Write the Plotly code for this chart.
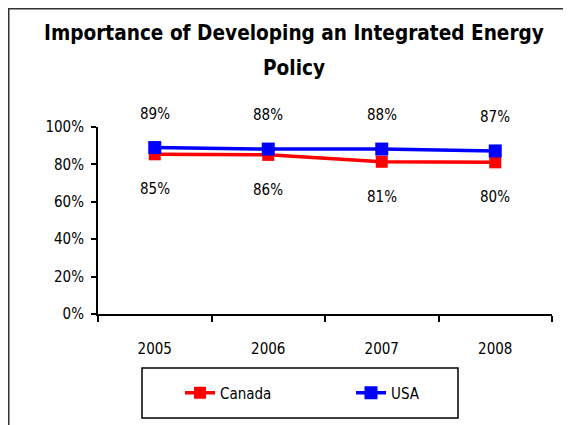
import plotly.graph_objects as go

years = ["2005", "2006", "2007", "2008"]
canada = [85.4, 85.1, 81.4, 81.1]          # plotted positions
canada_labels = ["85%", "86%", "81%", "80%"]
usa = [89.0, 88.2, 88.2, 87.2]              # plotted positions
usa_labels = ["89%", "88%", "88%", "87%"]
y_ticks = [0, 20, 40, 60, 80, 100]
y_tick_labels = [f"{v}%" for v in y_ticks]
title_lines = ["Importance of Developing an Integrated Energy", "Policy"]

# the page body adds an 8px offset; work in screen pixels and convert
OFF = 8
SW, SH = 571, 425
W, H = SW - OFF, SH - OFF
PLOT_L, PLOT_R, PLOT_T, PLOT_B = 98, 552, 127, 314   # screen px
ML, MR, MT, MB = PLOT_L - OFF, SW - PLOT_R, PLOT_T - OFF, SH - PLOT_B
PW, PH = PLOT_R - PLOT_L, PLOT_B - PLOT_T


def px_x(x):
    return (x - PLOT_L) / PW


def px_y(y):
    return (PLOT_B - y) / PH


FONT = "DejaVu Sans Condensed, Liberation Sans Narrow, sans-serif"

fig = go.Figure()
fig.add_trace(go.Scatter(
    x=years, y=canada, name="Canada", mode="lines+markers",
    line=dict(color="#ff0000", width=3.5),
    marker=dict(symbol="square", size=12, color="#ff0000"),
))
fig.add_trace(go.Scatter(
    x=years, y=usa, name="USA", mode="lines+markers",
    line=dict(color="#0000ff", width=3.5),
    marker=dict(symbol="square", size=13, color="#0000ff"),
))

annotations = []
for i, (v, t) in enumerate(zip(usa, usa_labels)):
    annotations.append(dict(x=i, y=v, xref="x", yref="y", text=t,
                            showarrow=False, yshift=34,
                            font=dict(family=FONT, size=15, color="black")))
for i, (v, t) in enumerate(zip(canada, canada_labels)):
    annotations.append(dict(x=i, y=v, xref="x", yref="y", text=t,
                            showarrow=False, yshift=-35,
                            font=dict(family=FONT, size=15, color="black")))

for line, yc in zip(title_lines, [32.5, 67.5]):
    annotations.append(dict(
        x=px_x(293.5), y=px_y(yc), xref="paper", yref="paper",
        text=f"<b>{line}</b>", showarrow=False,
        xanchor="center", yanchor="middle",
        font=dict(family=FONT, size=20.6, color="black"),
    ))

shapes = [
    # outer chart frame (extends past the right and bottom edges)
    dict(type="rect", xref="paper", yref="paper",
         x0=px_x(OFF + 0.75), x1=px_x(620), y0=px_y(460), y1=px_y(OFF + 0.75),
         line=dict(color="#333333", width=1.5), fillcolor="rgba(0,0,0,0)",
         layer="below"),
    # legend frame
    dict(type="rect", xref="paper", yref="paper",
         x0=px_x(142), x1=px_x(458), y0=px_y(418), y1=px_y(368),
         line=dict(color="black", width=1.5), fillcolor="rgba(0,0,0,0)"),
]

fig.update_layout(
    width=W, height=H,
    margin=dict(l=ML, r=MR, t=MT, b=MB, pad=0),
    paper_bgcolor="white", plot_bgcolor="white",
    font=dict(family=FONT, size=15, color="black"),
    showlegend=True,
    legend=dict(orientation="h", x=px_x(180), y=px_y(393),
                xanchor="left", yanchor="middle",
                entrywidth=126, entrywidthmode="pixels",
                font=dict(family=FONT, size=15, color="black"),
                bgcolor="rgba(0,0,0,0)", borderwidth=0),
    xaxis=dict(type="category", range=[-0.5, 3.5], showgrid=False,
               showline=True, linecolor="black", linewidth=2,
               ticks="outside", tickson="boundaries", ticklen=6,
               tickcolor="black", tickwidth=2, ticklabelstandoff=20,
               tickfont=dict(family=FONT, size=15)),
    yaxis=dict(range=[0, 100], tickmode="array", tickvals=y_ticks,
               ticktext=y_tick_labels,
               showgrid=False, zeroline=False,
               showline=True, linecolor="black", linewidth=2,
               ticks="outside", ticklen=5, tickcolor="black", tickwidth=2,
               ticklabelstandoff=4,
               tickfont=dict(family=FONT, size=15)),
    annotations=annotations,
    shapes=shapes,
)

fig.write_html("out.html")
